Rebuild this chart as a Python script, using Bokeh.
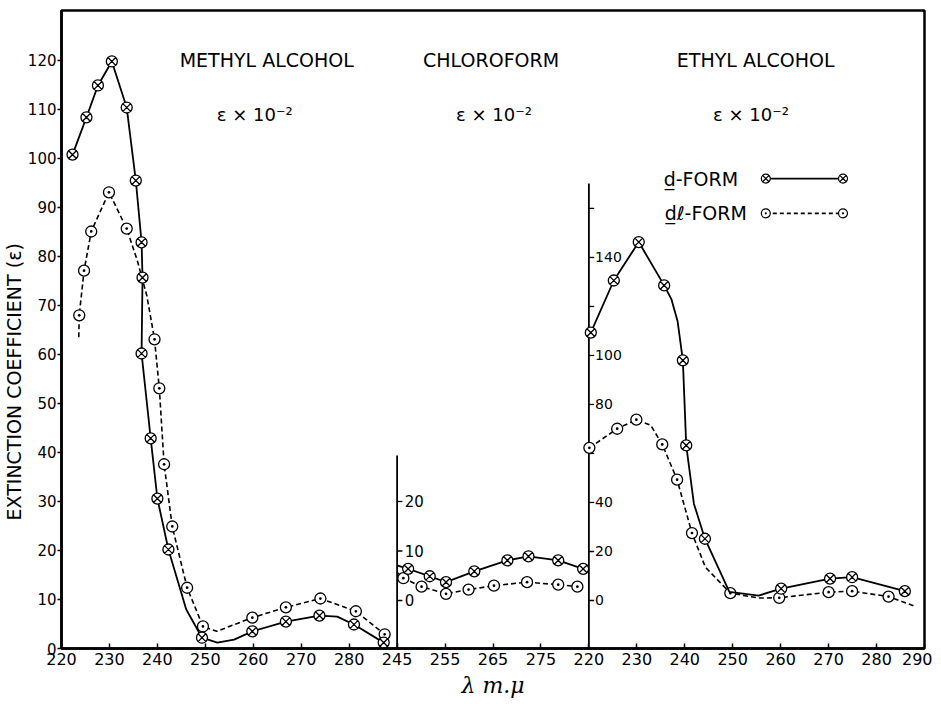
import math
from bokeh.plotting import figure
from bokeh.models import Range1d, FixedTicker, Label, Title
from bokeh.core.properties import value
from bokeh.embed import file_html
from bokeh.resources import INLINE

# ---------------- data ----------------
# Methyl alcohol, eps x 10^-2 (left scale)
meth_d_wl = [222.3, 225.2, 227.6, 230.5, 233.6, 235.5, 236.7, 236.9, 236.7, 238.6, 240.0, 242.3,
             249.3, 259.8, 266.8, 273.8, 281.0, 287.2]
meth_d_eps = [100.8, 108.4, 114.9, 119.8, 110.4, 95.5, 82.9, 75.7, 60.2, 42.9, 30.6, 20.2,
              2.2, 3.5, 5.5, 6.7, 4.9, 1.2]
# traced solid curve
meth_d_curve_wl = [222.3, 225.2, 227.6, 230.5, 233.6, 235.5, 236.7, 236.9, 236.7, 238.6, 240.0, 242.3,
                   246.0, 249.3, 252.5, 256.0, 259.8, 266.8, 273.8, 277.5, 281.0, 287.2]
meth_d_curve_eps = [100.8, 108.4, 114.9, 119.8, 110.4, 95.5, 82.9, 75.7, 60.2, 42.9, 30.6, 20.2,
                    8.0, 2.2, 1.2, 1.8, 3.5, 5.5, 6.7, 6.5, 4.9, 1.2]

meth_dl_wl = [223.7, 224.7, 226.2, 229.9, 233.6, 239.4, 240.4, 241.4, 243.1, 246.2, 249.5,
              259.8, 266.8, 274.0, 281.4, 287.4]
meth_dl_eps = [68.0, 77.1, 85.1, 93.1, 85.7, 63.1, 53.1, 37.6, 24.9, 12.4, 4.5,
               6.3, 8.4, 10.2, 7.6, 2.9]
meth_dl_curve_wl = [223.6, 223.7, 224.7, 226.2, 229.9, 233.6, 235.8, 237.8, 239.4, 240.4, 241.4, 243.1,
                    246.2, 249.5, 252.4, 259.8, 266.8, 274.0, 281.4, 287.4]
meth_dl_curve_eps = [63.5, 68.0, 77.1, 85.1, 93.1, 85.7, 79.2, 72.0, 63.1, 53.1, 37.6, 24.9,
                     12.4, 4.5, 3.5, 6.3, 8.4, 10.2, 7.6, 2.9]

# Chloroform (inner scale)
chl_d_wl = [247.3, 251.8, 255.2, 261.1, 268.0, 272.4, 278.6, 283.8]
chl_d_eps = [6.4, 4.9, 3.7, 5.9, 8.1, 8.9, 8.1, 6.4]
chl_d_curve_wl = [245.0, 247.3, 251.8, 255.2, 261.1, 268.0, 272.4, 278.6, 283.8]
chl_d_curve_eps = [7.1, 6.4, 4.9, 3.7, 5.9, 8.1, 8.9, 8.1, 6.4]

chl_dl_wl = [246.3, 250.1, 255.2, 259.9, 265.2, 272.1, 278.6, 282.6]
chl_dl_eps = [4.5, 2.8, 1.35, 2.2, 3.0, 3.7, 3.2, 2.8]
chl_dl_curve_wl = [245.0, 246.3, 250.1, 255.2, 259.9, 265.2, 272.1, 278.6, 282.6]
chl_dl_curve_eps = [5.7, 4.5, 2.8, 1.35, 2.2, 3.0, 3.7, 3.2, 2.8]

# Ethyl alcohol (right-hand inner scale)
eth_d_wl = [220.4, 225.2, 230.4, 235.7, 239.6, 240.3, 244.2, 260.1, 270.3, 274.9, 285.9]
eth_d_eps = [109.3, 130.6, 146.3, 128.6, 98.0, 63.3, 25.2, 4.8, 8.9, 9.5, 3.8]
eth_d_curve_wl = [220.4, 225.2, 230.4, 235.7, 237.2, 238.5, 239.6, 240.3, 241.9, 244.2, 249.3, 255.4,
                  260.1, 270.3, 274.9, 285.9]
eth_d_curve_eps = [109.3, 130.6, 146.3, 128.6, 123.0, 114.0, 98.0, 63.3, 39.5, 25.2, 3.5, 2.0,
                   4.8, 8.9, 9.5, 3.8]

eth_dl_wl = [220.1, 225.9, 229.9, 235.3, 238.4, 241.5, 249.5, 259.7, 270.0, 274.9, 282.5]
eth_dl_eps = [62.3, 70.1, 73.8, 63.7, 49.3, 27.5, 3.0, 1.1, 3.4, 3.8, 1.6]
eth_dl_curve_wl = [220.1, 225.9, 229.9, 232.9, 235.3, 238.4, 241.5, 244.3, 249.5, 255.4, 259.7,
                   270.0, 274.9, 282.5, 288.0]
eth_dl_curve_eps = [62.3, 70.1, 73.8, 71.5, 63.7, 49.3, 27.5, 13.6, 3.0, 1.0, 1.1,
                    3.4, 3.8, 1.6, -2.4]

# ticks
bottom_ticks = [220, 230, 240, 250, 260, 270, 280, 290, 300, 310, 320, 330, 340, 350, 360, 370, 380, 390, 400]
bottom_tick_labels = ["220", "230", "240", "250", "260", "270", "280", "245", "255", "265", "275",
                      "220", "230", "240", "250", "260", "270", "280", "290"]
left_ticks = [0, 10, 20, 30, 40, 50, 60, 70, 80, 90, 100, 110, 120]
chl_ticks = [0, 10, 20]
chl_tick_labels = ["0", "10", "20"]
eth_ticks = [0, 20, 40, 60, 80, 100, 120, 140, 160]
eth_tick_labels = ["0", "20", "40", "", "80", "100", "", "140", ""]

FONT = "DejaVu Sans"

# ---------------- figure ----------------
p = figure(frame_width=863, frame_height=638,
           x_range=Range1d(220, 400.0), y_range=Range1d(0, 130.2),
           output_backend="svg", toolbar_location=None,
           min_border_left=60, min_border_right=8, min_border_top=10, min_border_bottom=10)
p.extra_x_ranges = {"chl": Range1d(175, 355.0), "eth": Range1d(110, 290.0)}
p.extra_y_ranges = {"chl": Range1d(-9.7, 119.2), "eth": Range1d(-19.6, 240.8)}

p.xgrid.visible = False
p.ygrid.visible = False
p.background_fill_color = "white"
p.border_fill_color = "white"
p.outline_line_color = "black"
p.outline_line_width = 2.5
p.outline_line_alpha = 1.0

xa = p.xaxis[0]
xa.ticker = FixedTicker(ticks=bottom_ticks)
xa.major_label_overrides = {t: l for t, l in zip(bottom_ticks, bottom_tick_labels)}
xa.minor_tick_line_color = None
xa.major_tick_in = 5
xa.major_tick_out = 0
xa.major_label_standoff = 4
xa.major_label_text_font = FONT
xa.major_label_text_font_size = "16px"
xa.major_label_text_color = "black"
xa.axis_line_width = 2.5
xa.major_tick_line_width = 1.5
xa.axis_label = "\u03bb m.\u03bc"
xa.axis_label_text_font = "DejaVu Serif"
xa.axis_label_text_font_style = "italic"
xa.axis_label_text_font_size = "22px"
xa.axis_label_text_color = "black"
xa.axis_label_standoff = 5

ya = p.yaxis[0]
ya.ticker = FixedTicker(ticks=left_ticks)
ya.minor_tick_line_color = None
ya.major_tick_in = 0
ya.major_tick_out = 4
ya.major_label_standoff = 1
ya.major_label_text_font = FONT
ya.major_label_text_font_size = "15px"
ya.major_label_text_color = "black"
ya.axis_line_width = 2.5
ya.major_tick_line_width = 1.5

# y axis title (placed lower than centre, as in the original)
p.add_layout(Title(text="EXTINCTION COEFFICIENT (\u03b5)", align="left", offset=128,
                   text_font=FONT, text_font_size="19px", text_font_style="normal",
                   text_color="black", standoff=0), "left")

# ---------------- inner axes ----------------
p.segment(x0=[245], y0=[-9.7], x1=[245], y1=[29.3], line_color="black", line_width=1.8,
          x_range_name="chl", y_range_name="chl")
p.segment(x0=[245] * len(chl_ticks), y0=chl_ticks, x1=[246.1] * len(chl_ticks), y1=chl_ticks,
          line_color="black", line_width=1.3, x_range_name="chl", y_range_name="chl")
p.text(x=[246.6] * len(chl_ticks), y=chl_ticks, text=chl_tick_labels,
       text_font=value(FONT), text_font_size="15px", text_baseline="middle", text_align="left",
       x_range_name="chl", y_range_name="chl")

p.segment(x0=[220], y0=[-19.6], x1=[220], y1=[170.2], line_color="black", line_width=1.8,
          x_range_name="eth", y_range_name="eth")
p.segment(x0=[220] * len(eth_ticks), y0=eth_ticks, x1=[221.1] * len(eth_ticks), y1=eth_ticks,
          line_color="black", line_width=1.3, x_range_name="eth", y_range_name="eth")
p.text(x=[221.3] * len(eth_ticks), y=eth_ticks, text=eth_tick_labels,
       text_font=value(FONT), text_font_size="14px", text_baseline="middle", text_align="left",
       x_range_name="eth", y_range_name="eth")

# ---------------- curves ----------------
SOLID_W = 1.8
DASH_W = 1.6
DASH = "5 3"
MS = 11

def series(curve_x, curve_y, px, py, marker, dashed, xr="default", yr="default"):
    kw = {}
    if xr != "default":
        kw["x_range_name"] = xr
    if yr != "default":
        kw["y_range_name"] = yr
    if dashed:
        p.line(curve_x, curve_y, line_color="black", line_width=DASH_W, line_dash=DASH, **kw)
    else:
        p.line(curve_x, curve_y, line_color="black", line_width=SOLID_W, **kw)
    p.scatter(px, py, marker=marker, size=MS, fill_color="white", line_color="black",
              line_width=1.3, **kw)

series(meth_dl_curve_wl, meth_dl_curve_eps, meth_dl_wl, meth_dl_eps, "circle_dot", True)
series(meth_d_curve_wl, meth_d_curve_eps, meth_d_wl, meth_d_eps, "circle_x", False)
series(chl_dl_curve_wl, chl_dl_curve_eps, chl_dl_wl, chl_dl_eps, "circle_dot", True, "chl", "chl")
series(chl_d_curve_wl, chl_d_curve_eps, chl_d_wl, chl_d_eps, "circle_x", False, "chl", "chl")
series(eth_dl_curve_wl, eth_dl_curve_eps, eth_dl_wl, eth_dl_eps, "circle_dot", True, "eth", "eth")
series(eth_d_curve_wl, eth_d_curve_eps, eth_d_wl, eth_d_eps, "circle_x", False, "eth", "eth")

# ---------------- legend (hand drawn style) ----------------
LX = [366.9, 383.0]
p.line(LX, [95.9, 95.9], line_color="black", line_width=SOLID_W)
p.scatter(LX, [95.9, 95.9], marker="circle_x", size=9, fill_color="white",
          line_color="black", line_width=1.2)
p.line(LX, [88.8, 88.8], line_color="black", line_width=DASH_W, line_dash="4 3")
p.scatter(LX, [88.8, 88.8], marker="circle_dot", size=9, fill_color="white",
          line_color="black", line_width=1.2)
p.add_layout(Label(x=345.6, y=95.9, text="d\u0332-FORM", text_font=FONT, text_font_size="19px",
                   text_color="black", text_baseline="middle", text_align="left"))
p.add_layout(Label(x=345.8, y=88.8, text="d\u0332\u2113-FORM", text_font=FONT, text_font_size="19px",
                   text_color="black", text_baseline="middle", text_align="left"))

# ---------------- titles ----------------
def title(x, y, t, size="19px"):
    p.add_layout(Label(x=x, y=y, text=t, text_font=FONT, text_font_size=size, text_color="black",
                       text_align="center", text_baseline="middle"))

title(262.8, 120.2, "METHYL ALCOHOL")
title(260.3, 109.0, "\u03b5 \u00d7 10\u207b\u00b2", "18px")
title(309.6, 120.2, "CHLOROFORM")
title(310.2, 109.0, "\u03b5 \u00d7 10\u207b\u00b2", "18px")
title(364.8, 120.2, "ETHYL ALCOHOL")
title(363.8, 109.0, "\u03b5 \u00d7 10\u207b\u00b2", "18px")

open("out.html", "w").write(file_html(p, INLINE))
